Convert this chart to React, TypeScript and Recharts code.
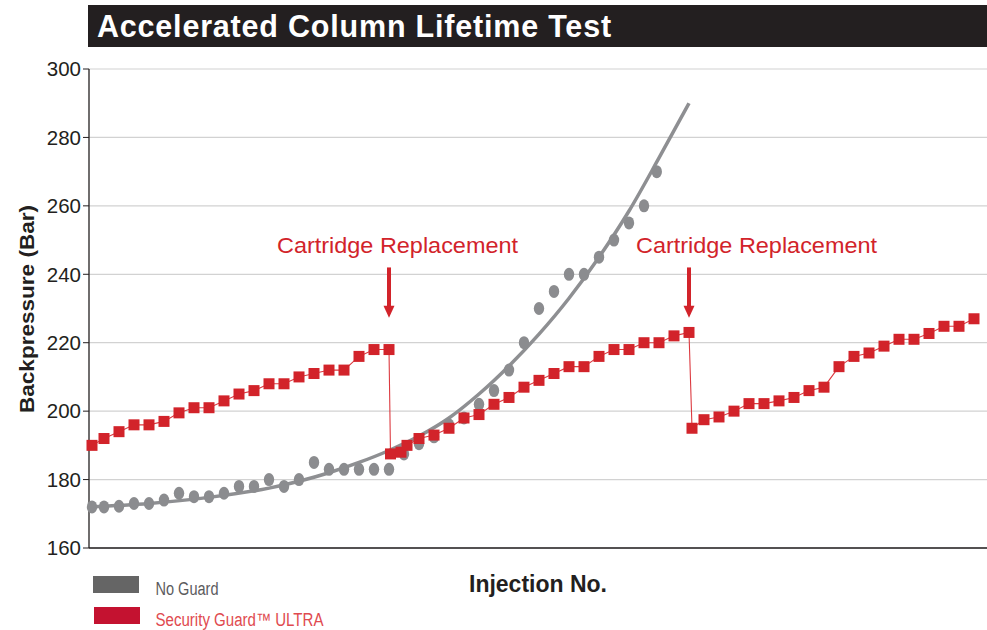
import { ComposedChart, Line, Scatter, XAxis, YAxis, CartesianGrid, ReferenceLine } from 'recharts';

const FONT = '"Liberation Sans", Arial, Helvetica, sans-serif';
const RED = '#d2232a';
const GRAY = '#8b8c8f';
const INK = '#231f20';

// Security Guard ULTRA (cartridge replaced at injection 20 and 40)
const ultraInjection = [
    0.2, 1, 2, 3, 4, 5, 6, 7, 8, 9, 10, 11, 12, 13, 14, 15, 16, 17, 18, 19, 20,
    20.1, 20.8, 21.2, 22, 23, 24, 25, 26, 27, 28, 29, 30, 31, 32, 33, 34, 35, 36, 37, 38, 39, 40,
    40.2, 41, 42, 43, 44, 45, 46, 47, 48, 49, 50, 51, 52, 53, 54, 55, 56, 57, 58, 59,
];
const ultraPressure = [
    190, 192, 194, 196, 196, 197, 199.5, 201, 201, 203, 205, 206, 208, 208, 210, 211, 212, 212, 216, 218, 218,
    187.5, 188, 190, 192, 193, 195, 198, 199, 202, 204, 207, 209, 211, 213, 213, 216, 218, 218, 220, 220, 222, 223,
    195, 197.5, 198.3, 200, 202.2, 202.2, 203, 204, 206, 207, 213, 216, 217, 219, 221, 221, 222.7, 224.8, 224.8, 227,
];

// No guard
const noGuardInjection = [
    0.2, 1, 2, 3, 4, 5, 6, 7, 8, 9, 10, 11, 12, 13, 14, 15, 16, 17, 18, 19, 20,
    21, 22, 23, 24, 25, 26, 27, 28, 29, 30, 31, 32, 33, 34, 35, 36, 37, 37.85,
];
const noGuardPressure = [
    172, 172, 172.2, 173, 173, 174, 176, 175, 175, 176, 178, 178, 180, 178, 180, 185, 183, 183, 183, 183, 183,
    187.5, 190.5, 192.5, 196, 198, 202, 206, 212, 220, 230, 235, 240, 240, 245, 250, 255, 260, 270,
];

// trend curve for no guard
const trendInjection = [0, 4, 8, 12, 16, 18, 20, 22, 24, 26, 28, 30, 32, 34, 36, 38, 40];
const trendPressure = [172, 173, 174.8, 177.5, 182, 185, 188.5, 192.7, 198, 205, 213.2, 222.5, 233, 245, 258.5, 274, 290];

const yTicks = [160, 180, 200, 220, 240, 260, 280, 300];
const xTicks = [0, 10, 20, 30, 40, 50, 60];

const replacementInjection = [20, 40];
const replacementLabel = 'Cartridge Replacement';
const labelShift = [-112, -53];

const ultraData = ultraInjection.map((x, i) => ({ x, y: ultraPressure[i] }));
const noGuardData = noGuardInjection.map((x, i) => ({ x, y: noGuardPressure[i] }));
const trendData = trendInjection.map((x, i) => ({ x, y: trendPressure[i] }));

function Arrow(props: any, shift: number) {
    const { x1, y1, y2 } = props;
    return (
        <g>
            <line x1={x1} y1={y1} x2={x1} y2={y2 - 11} stroke={RED} strokeWidth={4} />
            <polygon points={`${x1 - 5.5},${y2 - 12} ${x1 + 5.5},${y2 - 12} ${x1},${y2}`} fill={RED} />
            <text x={x1 + shift} y={y1 - 14} fill={RED} fontSize={22} fontFamily={FONT} textLength={241} lengthAdjust="spacingAndGlyphs">
                {replacementLabel}
            </text>
        </g>
    );
}

export default function App() {
    return (
        <div style={{ position: 'absolute', left: 0, top: 0, width: 987, height: 630, overflow: 'hidden', background: '#fff' }}>
            <div
                style={{
                    position: 'absolute', left: 88, top: 5, width: 899, height: 42, background: INK, color: '#fff',
                    fontFamily: FONT, fontWeight: 700, fontSize: 30.5, lineHeight: '42px', paddingLeft: 9, letterSpacing: 0.8,
                    boxSizing: 'border-box', whiteSpace: 'nowrap',
                }}
            >
                Accelerated Column Lifetime Test
            </div>
            <div style={{ position: 'absolute', left: 0, top: 0 }}>
                <ComposedChart width={990} height={630} margin={{ top: 69, right: 1, bottom: 52, left: 0 }}>
                    <CartesianGrid vertical={false} stroke="#d2d2d2" strokeWidth={1.2} />
                    <XAxis
                        type="number"
                        dataKey="x"
                        domain={[0, 60]}
                        ticks={xTicks}
                        tick={false}
                        tickSize={7}
                        height={30}
                        axisLine={{ stroke: INK, strokeWidth: 1.3 }}
                        tickLine={{ stroke: INK }}
                    />
                    <YAxis
                        type="number"
                        domain={[160, 300]}
                        ticks={yTicks}
                        width={89}
                        tickSize={6}
                        tickMargin={2}
                        axisLine={{ stroke: INK, strokeWidth: 1.3 }}
                        tickLine={{ stroke: INK }}
                        tick={{ fill: INK, fontSize: 20.5, fontFamily: FONT }}
                    />
                    {replacementInjection.map((x, i) => (
                        <ReferenceLine
                            key={x}
                            segment={[{ x, y: 242 }, { x, y: 227.3 }]}
                            shape={(p: any) => Arrow(p, labelShift[i])}
                        />
                    ))}
                    <Line
                        data={trendData}
                        dataKey="y"
                        type="monotone"
                        stroke="#8e8f92"
                        strokeWidth={3.5}
                        dot={false}
                        isAnimationActive={false}
                    />
                    <Scatter
                        data={noGuardData}
                        dataKey="y"
                        fill={GRAY}
                        isAnimationActive={false}
                        shape={(p: any) => <ellipse cx={p.cx} cy={p.cy} rx={5.2} ry={6.5} fill={GRAY} />}
                    />
                    <Line
                        data={ultraData}
                        dataKey="y"
                        type="linear"
                        stroke="#dc3a40"
                        strokeWidth={1.1}
                        isAnimationActive={false}
                        dot={(p: any) => <rect key={`u${p.index}`} x={p.cx - 5.5} y={p.cy - 5.5} width={11} height={11} fill={RED} />}
                    />
                </ComposedChart>
            </div>
            <svg width={987} height={630} style={{ position: 'absolute', left: 0, top: 0, pointerEvents: 'none' }}>
                <text
                    transform="translate(34, 309) rotate(-90)"
                    textAnchor="middle"
                    fontFamily={FONT}
                    fontWeight={700}
                    fontSize={19.5}
                    fill={INK}
                    textLength={208}
                    lengthAdjust="spacingAndGlyphs"
                >
                    Backpressure (Bar)
                </text>
                <text x={538} y={592} textAnchor="middle" fontFamily={FONT} fontWeight={700} fontSize={23} fill={INK}>
                    Injection No.
                </text>
                <rect x={93} y={576} width={46} height={17} fill="#656565" />
                <text x={155.5} y={595} fontFamily={FONT} fontSize={18} fill="#5b5b5d" textLength={63} lengthAdjust="spacingAndGlyphs">
                    No Guard
                </text>
                <rect x={94} y={607} width={46} height={17} fill="#c41230" />
                <text x={155.5} y={626} fontFamily={FONT} fontSize={18} fill="#e04a4f" textLength={168} lengthAdjust="spacingAndGlyphs">
                    Security Guard™ ULTRA
                </text>
            </svg>
        </div>
    );
}
